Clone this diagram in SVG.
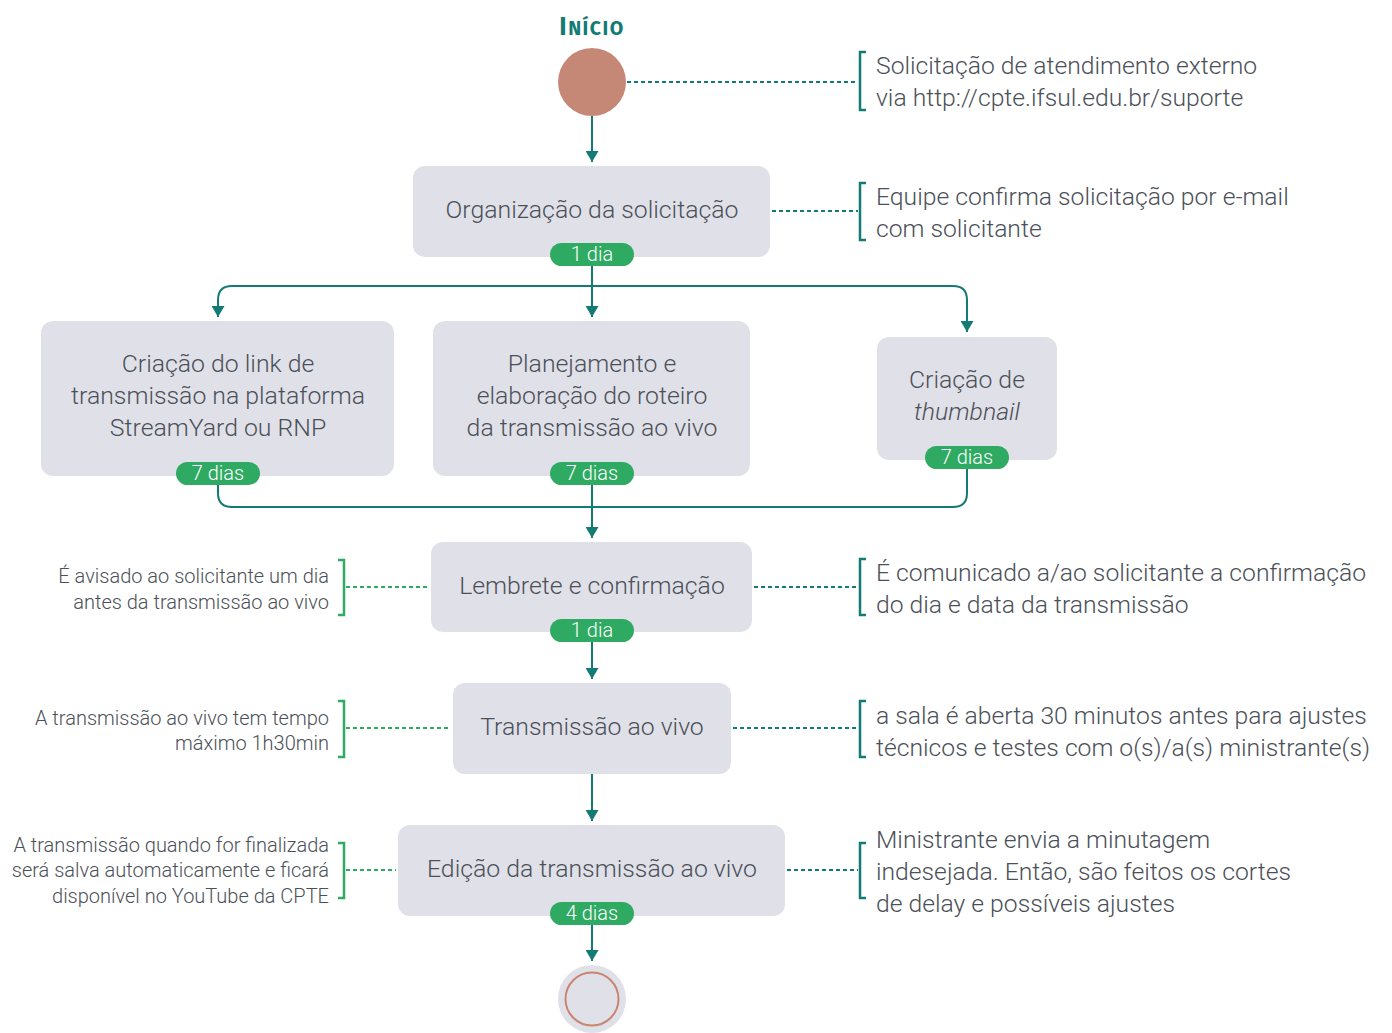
<svg xmlns="http://www.w3.org/2000/svg" width="1392" height="1033" viewBox="0 0 1392 1033">
<defs>
<marker id="arr" viewBox="0 0 13 11" refX="6.5" refY="11" markerWidth="13" markerHeight="11" markerUnits="userSpaceOnUse" orient="0">
<path d="M0,0 L13,0 L6.5,11 Z" fill="#127b74"/>
</marker>
<style>
.box{fill:#e0e0e8;}
.t{font-family:Roboto,"Noto Sans",sans-serif;font-weight:300;fill:#4b5058;}
.bt{font-size:24.8px;text-anchor:middle;}
.rt{font-size:24.7px;}
.lt{font-size:20px;text-anchor:end;}
.pill{fill:#2eaa62;}
.pt{font-family:Roboto,"Noto Sans",sans-serif;font-weight:300;font-size:20px;fill:#ffffff;text-anchor:middle;}
.flow{fill:none;stroke:#127b74;stroke-width:2;}
.dotT{fill:none;stroke:#127b74;stroke-width:2;stroke-dasharray:4 3;}
.dotG{fill:none;stroke:#2eaa62;stroke-width:2;stroke-dasharray:4 3;}
.brT{fill:none;stroke:#127b74;stroke-width:2.5;}
.brG{fill:none;stroke:#2eaa62;stroke-width:2.5;}
</style>
</defs>
<rect width="1392" height="1033" fill="#ffffff"/>

<g id="connectors">
<path class="flow" d="M592,116 V162" marker-end="url(#arr)"/>
<path class="flow" d="M592,266 V317" marker-end="url(#arr)"/>
<path class="flow" d="M592,286 H232 Q218,286 218,300 V317" marker-end="url(#arr)"/>
<path class="flow" d="M592,286 H953 Q967,286 967,300 V332" marker-end="url(#arr)"/>
<path class="flow" d="M218,485 V493 Q218,507 232,507 H953 Q967,507 967,493 V469"/>
<path class="flow" d="M592,485 V538" marker-end="url(#arr)"/>
<path class="flow" d="M592,642 V679" marker-end="url(#arr)"/>
<path class="flow" d="M592,774 V821" marker-end="url(#arr)"/>
<path class="flow" d="M592,925 V961" marker-end="url(#arr)"/>
<path class="dotT" d="M627,82 H858"/>
<path class="dotT" d="M772,211 H858"/>
<path class="dotT" d="M754,587 H858"/>
<path class="dotT" d="M733,728 H858"/>
<path class="dotT" d="M787,870 H858"/>
<path class="dotG" d="M346,587 H429"/>
<path class="dotG" d="M346,728 H451"/>
<path class="dotG" d="M346,870 H396"/>
</g>

<g id="start">
<text x="592" y="35" text-anchor="middle" font-family="'Fira Sans','Noto Sans',sans-serif" font-weight="700" fill="#127b74" letter-spacing="1.5"><tspan font-size="25">I</tspan><tspan font-size="19.5">NÍCIO</tspan></text>
<circle cx="592" cy="82" r="34" fill="#c58877"/>
</g>

<g id="note-start">
<path class="brT" d="M866,52 H860 V110 H866"/>
<text class="t rt" x="876" y="74">Solicitação de atendimento externo</text>
<text class="t rt" x="876" y="106">via http://cpte.ifsul.edu.br/suporte</text>
</g>

<g id="organizacao">
<rect class="box" x="413" y="166" width="357" height="91" rx="12"/>
<text class="t bt" x="592" y="218">Organização da solicitação</text>
<rect class="pill" x="550" y="243" width="84" height="23" rx="11.5"/>
<text class="pt" x="592" y="261">1 dia</text>
</g>

<g id="note-organizacao">
<path class="brT" d="M866,183 H860 V240 H866"/>
<text class="t rt" x="876" y="205">Equipe confirma solicitação por e-mail</text>
<text class="t rt" x="876" y="237">com solicitante</text>
</g>

<g id="criacao-link">
<rect class="box" x="41" y="321" width="353" height="155" rx="12"/>
<text class="t bt" x="218" y="372">Criação do link de</text>
<text class="t bt" x="218" y="404">transmissão na plataforma</text>
<text class="t bt" x="218" y="436">StreamYard ou RNP</text>
<rect class="pill" x="176" y="462" width="84" height="23" rx="11.5"/>
<text class="pt" x="218" y="480">7 dias</text>
</g>

<g id="planejamento">
<rect class="box" x="433" y="321" width="317" height="155" rx="12"/>
<text class="t bt" x="592" y="372">Planejamento e</text>
<text class="t bt" x="592" y="404">elaboração do roteiro</text>
<text class="t bt" x="592" y="436">da transmissão ao vivo</text>
<rect class="pill" x="550" y="462" width="84" height="23" rx="11.5"/>
<text class="pt" x="592" y="480">7 dias</text>
</g>

<g id="thumbnail">
<rect class="box" x="877" y="337" width="180" height="123" rx="12"/>
<text class="t bt" x="967" y="388">Criação de</text>
<text class="t bt" x="967" y="420" font-style="italic">thumbnail</text>
<rect class="pill" x="925" y="446" width="84" height="23" rx="11.5"/>
<text class="pt" x="967" y="464">7 dias</text>
</g>

<g id="lembrete">
<rect class="box" x="431" y="542" width="321" height="90" rx="12"/>
<text class="t bt" x="592" y="594">Lembrete e confirmação</text>
<rect class="pill" x="550" y="619" width="84" height="23" rx="11.5"/>
<text class="pt" x="592" y="637">1 dia</text>
</g>

<g id="note-lembrete-left">
<path class="brG" d="M338,560 H344 V615 H338"/>
<text class="t lt" x="329" y="583">É avisado ao solicitante um dia</text>
<text class="t lt" x="329" y="609">antes da transmissão ao vivo</text>
</g>

<g id="note-lembrete-right">
<path class="brT" d="M866,559 H860 V615 H866"/>
<text class="t rt" x="876" y="581">É comunicado a/ao solicitante a confirmação</text>
<text class="t rt" x="876" y="613">do dia e data da transmissão</text>
</g>

<g id="transmissao">
<rect class="box" x="453" y="683" width="278" height="91" rx="12"/>
<text class="t bt" x="592" y="735">Transmissão ao vivo</text>
</g>

<g id="note-transmissao-left">
<path class="brG" d="M338,701 H344 V757 H338"/>
<text class="t lt" x="329" y="725">A transmissão ao vivo tem tempo</text>
<text class="t lt" x="329" y="750">máximo 1h30min</text>
</g>

<g id="note-transmissao-right">
<path class="brT" d="M866,701 H860 V757 H866"/>
<text class="t rt" x="876" y="724">a sala é aberta 30 minutos antes para ajustes</text>
<text class="t rt" x="876" y="756">técnicos e testes com o(s)/a(s) ministrante(s)</text>
</g>

<g id="edicao">
<rect class="box" x="398" y="825" width="387" height="91" rx="12"/>
<text class="t bt" x="592" y="877">Edição da transmissão ao vivo</text>
<rect class="pill" x="550" y="902" width="84" height="23" rx="11.5"/>
<text class="pt" x="592" y="920">4 dias</text>
</g>

<g id="note-edicao-left">
<path class="brG" d="M338,843 H344 V898 H338"/>
<text class="t lt" x="329" y="852">A transmissão quando for finalizada</text>
<text class="t lt" x="329" y="877">será salva automaticamente e ficará</text>
<text class="t lt" x="329" y="903">disponível no YouTube da CPTE</text>
</g>

<g id="note-edicao-right">
<path class="brT" d="M866,843 H860 V898 H866"/>
<text class="t rt" x="876" y="848">Ministrante envia a minutagem</text>
<text class="t rt" x="876" y="880">indesejada. Então, são feitos os cortes</text>
<text class="t rt" x="876" y="912">de delay e possíveis ajustes</text>
</g>

<g id="end">
<circle cx="592" cy="999" r="34" fill="#e0e0e8"/>
<circle cx="592" cy="999" r="26.5" fill="none" stroke="#c98570" stroke-width="2"/>
</g>
</svg>
